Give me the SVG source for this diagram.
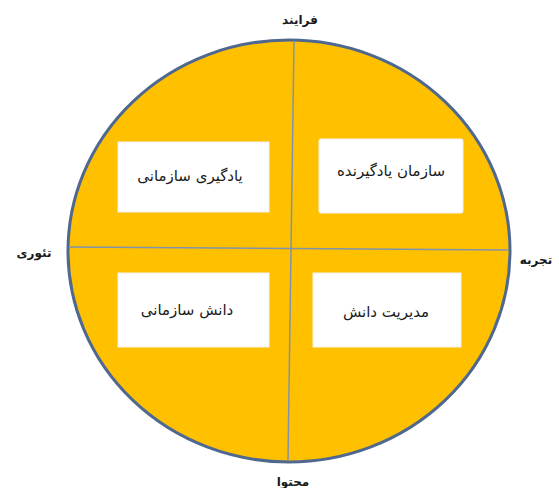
<svg xmlns="http://www.w3.org/2000/svg" width="559" height="488" viewBox="0 0 559 488">
<style>
text{font-family:"DejaVu Sans",sans-serif;font-size:15px;fill:#1a1a1a;text-anchor:middle;direction:rtl}
.lbl{font-weight:bold;font-size:12px}
.box{fill:#fff;stroke:#f2f2f2;stroke-width:1}
.ax{stroke:#7f93ad;stroke-width:1.5;fill:none}
</style>
<rect width="559" height="488" fill="#fff"/>
<g id="circle"><ellipse cx="289" cy="251" rx="221" ry="211" fill="#ffc000" stroke="#4f6890" stroke-width="3"/></g>
<g id="connectors">
<line class="ax" x1="294" y1="41" x2="288" y2="460"/>
<line class="ax" x1="69" y1="247" x2="509" y2="250"/>
</g>
<g id="top"><text class="lbl" x="300" y="24">فرایند</text></g>
<g id="left"><text class="lbl" x="34" y="257">تئوری</text></g>
<g id="right"><text class="lbl" x="536" y="264">تجربه</text></g>
<g id="bottom"><text class="lbl" x="293" y="486">محتوا</text></g>
<g id="n1"><rect class="box" x="118" y="142" width="151" height="70"/><text x="190" y="181">یادگیری سازمانی</text></g>
<g id="n2"><rect class="box" x="319" y="139" width="144" height="74" rx="2"/><text x="391" y="176">سازمان یادگیرنده</text></g>
<g id="n3"><rect class="box" x="118" y="273" width="151" height="74"/><text x="187" y="315">دانش سازمانی</text></g>
<g id="n4"><rect class="box" x="313" y="273" width="148" height="74"/><text x="386" y="317">مدیریت دانش</text></g>
</svg>
